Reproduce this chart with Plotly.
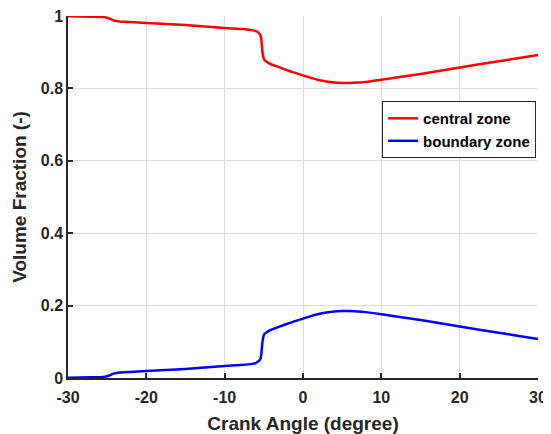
import plotly.graph_objects as go

crank_angle = [-30, -27, -25.5, -25, -24.6, -24.2, -23.8, -23.4, -20, -15, -10, -8, -6.5,
               -6, -5.6, -5.4, -5.3, -5.2, -5.1, -5.0, -4.9, -4.8, -4.6, -4.3, -4, -3, -2,
               -1, 0, 1, 2, 3, 4, 5, 6, 7, 8, 10, 15, 20, 25, 30]
central_zone = [0.999, 0.998, 0.997, 0.995, 0.992, 0.988, 0.986, 0.985, 0.981, 0.975, 0.967,
                0.964, 0.961, 0.958, 0.952, 0.945, 0.93, 0.905, 0.89, 0.882, 0.878, 0.876,
                0.873, 0.869, 0.866, 0.858, 0.850, 0.843, 0.836, 0.829, 0.823, 0.819, 0.816,
                0.815, 0.815, 0.816, 0.818, 0.824, 0.840, 0.858, 0.875, 0.892]
boundary_zone = [0.001, 0.002, 0.003, 0.005, 0.008, 0.012, 0.014, 0.015, 0.019, 0.025, 0.033,
                 0.036, 0.039, 0.042, 0.048, 0.055, 0.07, 0.095, 0.11, 0.118, 0.122, 0.124,
                 0.127, 0.131, 0.134, 0.142, 0.150, 0.157, 0.164, 0.171, 0.177, 0.181, 0.184,
                 0.185, 0.185, 0.184, 0.182, 0.176, 0.160, 0.142, 0.125, 0.108]

x_ticks = [-30, -20, -10, 0, 10, 20, 30]
x_tick_labels = ["-30", "-20", "-10", "0", "10", "20", "30"]
y_ticks = [0, 0.2, 0.4, 0.6, 0.8, 1]
y_tick_labels = ["0", "0.2", "0.4", "0.6", "0.8", "1"]

FONT = "Liberation Sans, Arial"

fig = go.Figure()
fig.add_trace(go.Scatter(x=crank_angle, y=central_zone, mode="lines", name="central zone",
                         line=dict(color="#ff0000", width=2.5, shape="spline", smoothing=0.6)))
fig.add_trace(go.Scatter(x=crank_angle, y=boundary_zone, mode="lines", name="boundary zone",
                         line=dict(color="#0000ff", width=2.5, shape="spline", smoothing=0.6)))

axis_common = dict(
    showgrid=True, gridcolor="#dcdcdc", gridwidth=1,
    showline=True, linecolor="#262626", linewidth=1.5,
    ticks="inside", ticklen=5, tickcolor="#262626", tickwidth=1.5,
    zeroline=False, mirror=False, automargin=False, ticklabeloverflow="allow",
    tickfont=dict(family=FONT, size=16, color="#262626", weight="bold"),
)

# the page body adds an 8px offset, so the figure is sized to the remaining area
fig.update_layout(
    width=543, height=426,
    margin=dict(l=60, r=13, t=8, b=56),
    paper_bgcolor="white", plot_bgcolor="white",
    showlegend=True,
    legend=dict(x=0.996, y=0.765, xanchor="right", yanchor="top",
                bgcolor="white", bordercolor="#262626", borderwidth=1,
                font=dict(family=FONT, size=15, color="#000000", weight="bold"),
                tracegroupgap=0, itemwidth=30),
    xaxis=dict(range=[-30, 30], tickvals=x_ticks, ticktext=x_tick_labels, ticklabelstandoff=4,
               title=dict(text="Crank Angle (degree)", standoff=13,
                          font=dict(family=FONT, size=19, color="#262626", weight="bold")),
               **axis_common),
    yaxis=dict(range=[0, 1], tickvals=y_ticks, ticktext=y_tick_labels, ticklabelstandoff=0,
               title=dict(text="Volume Fraction (-)", standoff=9,
                          font=dict(family=FONT, size=19, color="#262626", weight="bold")),
               **axis_common),
)

fig.write_html("out.html")
